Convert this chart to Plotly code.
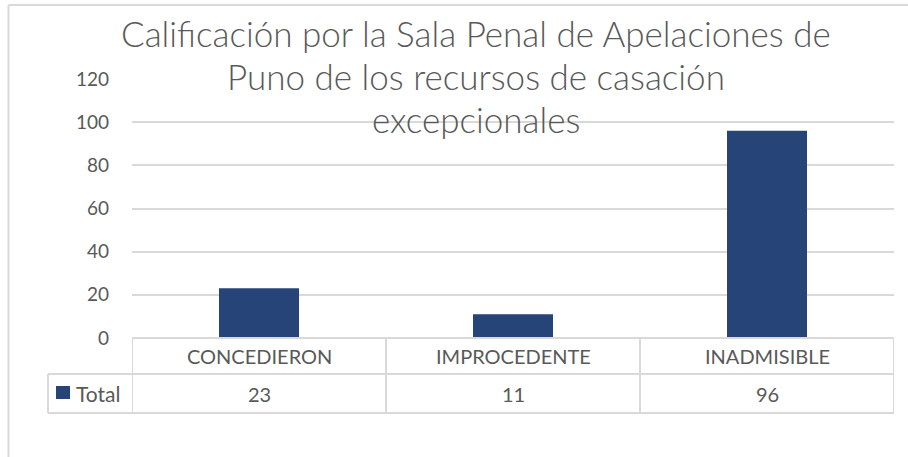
import plotly.graph_objects as go

# ---- data ----
categories = ["CONCEDIERON", "IMPROCEDENTE", "INADMISIBLE"]
totals = [23, 11, 96]
series_name = "Total"
title_lines = ["Calificación por la Sala Penal de Apelaciones de",
               "Puno de los recursos de casación",
               "excepcionales"]
y_ticks = [0, 20, 40, 60, 80, 100, 120]

# ---- layout geometry (pixels) ----
W, H = 908, 457
L, R, T, B = 132, 894, 79, 338
FONT = "Lato, Liberation Sans, sans-serif"
TXT = "#595959"
GRID = "#d9d9d9"
BAR = "#264478"

def py(p):  # pixel y -> paper y
    return (B - p) / (B - T)

def px(p):  # pixel x -> paper x
    return (p - L) / (R - L)

fig = go.Figure()
fig.add_trace(go.Bar(x=categories, y=totals, name=series_name,
                     marker=dict(color=BAR, line=dict(width=0)),
                     width=0.315, showlegend=False, hoverinfo="x+y"))

shapes = []
row1_top, row1_bot, row2_bot = B, 374, 413
leg_left = 48
lw = 2
# horizontal table lines
shapes.append(dict(type="line", xref="paper", yref="paper", x0=px(L), x1=px(R), y0=py(row1_top), y1=py(row1_top), line=dict(color=GRID, width=lw)))
for yy in (row1_bot, row2_bot):
    shapes.append(dict(type="line", xref="paper", yref="paper", x0=px(leg_left), x1=px(R), y0=py(yy), y1=py(yy), line=dict(color=GRID, width=lw)))
# vertical table lines at category boundaries
n = len(categories)
for i in range(n + 1):
    shapes.append(dict(type="line", xref="x", yref="paper", x0=i - 0.5, x1=i - 0.5,
                       y0=py(row1_top), y1=py(row2_bot), line=dict(color=GRID, width=lw)))
shapes.append(dict(type="line", xref="paper", yref="paper", x0=px(leg_left), x1=px(leg_left),
                   y0=py(row1_bot), y1=py(row2_bot), line=dict(color=GRID, width=lw)))
# legend key square
shapes.append(dict(type="rect", xref="paper", yref="paper", x0=px(56), x1=px(70), y0=py(399), y1=py(386),
                   fillcolor=BAR, line=dict(width=0)))
# chart outer border
shapes.append(dict(type="line", xref="paper", yref="paper", x0=px(8.5), x1=px(8.5), y0=py(5), y1=py(470), line=dict(color=GRID, width=2)))
shapes.append(dict(type="line", xref="paper", yref="paper", x0=px(8.5), x1=px(920), y0=py(5), y1=py(5), line=dict(color=GRID, width=2)))

annotations = []
TS = 20
for c, v in zip(categories, totals):
    annotations.append(dict(x=c, xref="x", y=py((row1_top + row1_bot) / 2), yref="paper", text=c,
                            showarrow=False, font=dict(family=FONT, size=TS, color=TXT), xanchor="center", yanchor="middle"))
    annotations.append(dict(x=c, xref="x", y=py((row1_bot + row2_bot) / 2), yref="paper", text=str(v),
                            showarrow=False, font=dict(family=FONT, size=TS, color=TXT), xanchor="center", yanchor="middle"))
annotations.append(dict(x=px(74), xref="paper", y=py((row1_bot + row2_bot) / 2), yref="paper", text=series_name,
                        showarrow=False, font=dict(family=FONT, size=21, color=TXT), xanchor="left", yanchor="middle"))
title_base = [47, 90, 133]
TTS = 35
for line, b in zip(title_lines, title_base):
    annotations.append(dict(x=px(476), xref="paper", y=py(b + 0.25 * TTS), yref="paper", text=line,
                            showarrow=False, font=dict(family=FONT, size=TTS, color=TXT, weight=300),
                            xanchor="center", yanchor="bottom"))

fig.update_layout(
    width=W, height=H,
    margin=dict(l=L, r=W - R, t=T, b=H - B, pad=0),
    paper_bgcolor="white", plot_bgcolor="white",
    shapes=shapes, annotations=annotations,
    xaxis=dict(range=[-0.5, n - 0.5], showticklabels=False, showgrid=False, zeroline=False, showline=False, ticks=""),
    yaxis=dict(range=[0, 120], tickvals=y_ticks, showgrid=True, gridcolor=GRID, gridwidth=2,
               zeroline=False, showline=False, ticks="", ticklabelstandoff=22,
               tickfont=dict(family=FONT, size=19, color=TXT)),
)
fig.write_html("out.html", config={"displayModeBar": False},
               post_script="document.body.style.margin='0';")
